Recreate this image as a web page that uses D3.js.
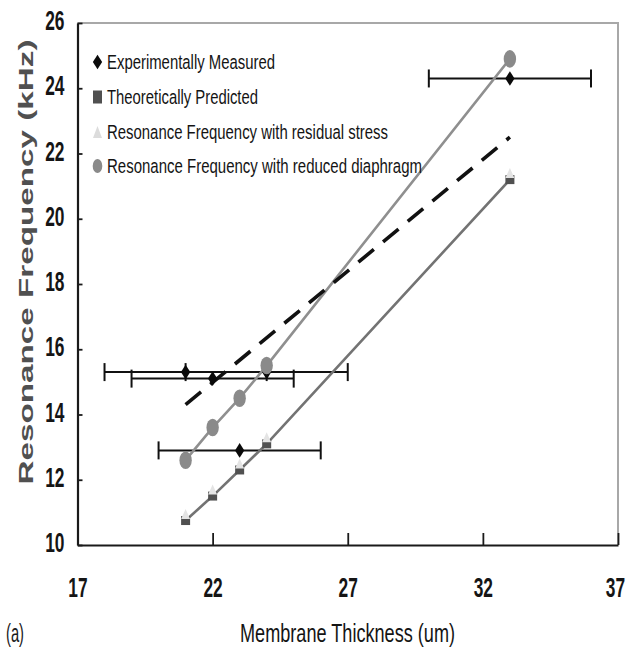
<!DOCTYPE html>
<html>
<head>
<meta charset="utf-8">
<script src="https://cdn.jsdelivr.net/npm/d3@7"></script>
<style>
  html, body { margin: 0; padding: 0; background: #fff; }
  svg { display: block; font-family: "Liberation Sans", Arial, sans-serif; }
</style>
</head>
<body>
<svg id="chart" width="629" height="650"></svg>
<script>
// Membrane thickness (um) at which each device was evaluated
const thickness = [21, 22, 23, 24, 33];

// Experimentally measured resonance frequency (kHz), with thickness uncertainty (um)
const measuredX = [21, 22, 24, 23, 33];
const measuredY = [15.3, 15.1, 15.3, 12.9, 24.3];
const measuredErr = [3, 3, 3, 3, 3];

// Model predictions (kHz)
const theoretical = [10.75, 11.5, 12.3, 13.1, 21.2];
const residualStress = [10.95, 11.7, 12.5, 13.3, 21.4];
const reducedDiaphragm = [12.6, 13.6, 14.5, 15.5, 24.9];

// Linear trend through the measured data (kHz)
const trendX = [21, 33];
const trendY = [14.3, 22.5];

const xTicks = [17, 22, 27, 32, 37];
const yTicks = [10, 12, 14, 16, 18, 20, 22, 24, 26];

const legendLabels = [
  "Experimentally Measured",
  "Theoretically Predicted",
  "Resonance Frequency with residual stress",
  "Resonance Frequency with reduced diaphragm"
];

const svg = d3.select("#chart");

const x = d3.scaleLinear().domain([17, 37]).range([77.5, 618]);
const y = d3.scaleLinear().domain([10, 26]).range([545, 23]);

// Frame: light top and right edges
svg.append("path")
  .attr("d", `M${x(17)},${y(26)}H${x(37)}V${y(10)}`)
  .attr("fill", "none")
  .attr("stroke", "#a8a8a8")
  .attr("stroke-width", 2);

// Axes with inward ticks
const xAxis = svg.append("g")
  .attr("transform", `translate(0,${y(10)})`)
  .call(d3.axisBottom(x).tickValues(xTicks).tickSizeInner(-12).tickSizeOuter(0).tickFormat(d3.format("d")));
const yAxis = svg.append("g")
  .attr("transform", `translate(${x(17)},0)`)
  .call(d3.axisLeft(y).tickValues(yTicks).tickSizeInner(-5).tickSizeOuter(0).tickFormat(d3.format("d")));

// Condensed numerals
const squeeze = 0.62;
[xAxis, yAxis].forEach(g => {
  g.select(".domain").attr("stroke", "#1a1a1a").attr("stroke-width", 2.2);
  g.selectAll(".tick line").attr("stroke", "#1a1a1a").attr("stroke-width", 1.8);
  g.selectAll(".tick text")
    .attr("fill", "#151515")
    .attr("font-size", 28)
    .attr("font-weight", "bold")
    .attr("font-family", "'Liberation Sans', Arial, sans-serif")
    .attr("transform", `scale(${squeeze},1)`);
});
xAxis.selectAll(".tick text").attr("y", 52).attr("dy", 0).attr("text-anchor", "middle");
xAxis.selectAll(".tick text").filter(d => d === 37).attr("x", -3 / squeeze);
yAxis.selectAll(".tick text").attr("x", -13 / squeeze).attr("dy", "0.24em").attr("text-anchor", "end");

// Horizontal error bars on the measured points
const eb = svg.append("g").attr("stroke", "#111").attr("stroke-width", 2).attr("fill", "none");
measuredX.forEach((xv, i) => {
  const yy = y(measuredY[i]);
  const x0 = x(xv - measuredErr[i]), x1 = x(xv + measuredErr[i]);
  eb.append("line").attr("x1", x0).attr("x2", x1).attr("y1", yy).attr("y2", yy);
  eb.append("line").attr("x1", x0).attr("x2", x0).attr("y1", yy - 9).attr("y2", yy + 9);
  eb.append("line").attr("x1", x1).attr("x2", x1).attr("y1", yy - 9).attr("y2", yy + 9);
});

const line = d3.line().x(d => x(d[0])).y(d => y(d[1]));

// Model curves
svg.append("path")
  .datum(d3.zip(thickness, reducedDiaphragm))
  .attr("d", line)
  .attr("fill", "none").attr("stroke", "#8f8f8f").attr("stroke-width", 2.6);
svg.append("path")
  .datum(d3.zip(thickness, theoretical))
  .attr("d", line)
  .attr("fill", "none").attr("stroke", "#737373").attr("stroke-width", 2.6);

// Dashed trend line
svg.append("path")
  .datum(d3.zip(trendX, trendY))
  .attr("d", line)
  .attr("fill", "none").attr("stroke", "#111").attr("stroke-width", 3.6)
  .attr("stroke-dasharray", "20,12");

// Marker shapes
const diamondPath = d3.symbol().type(d3.symbolDiamond).size(62)();
function drawDiamond(g, cx, cy) {
  g.append("path").attr("d", diamondPath)
    .attr("transform", `translate(${cx},${cy}) scale(1.1,1)`)
    .attr("fill", "#0a0a0a");
}
function drawSquare(g, cx, cy, w, h) {
  g.append("rect").attr("x", cx - w / 2).attr("y", cy - h / 2).attr("width", w).attr("height", h)
    .attr("fill", "#505050");
}
function drawTriangle(g, cx, cy, w, h, fill) {
  g.append("path")
    .attr("d", `M${cx},${cy - h / 2}L${cx + w / 2},${cy + h / 2}L${cx - w / 2},${cy + h / 2}Z`)
    .attr("fill", fill);
}
function drawCircle(g, cx, cy, rx, ry) {
  g.append("ellipse").attr("cx", cx).attr("cy", cy).attr("rx", rx).attr("ry", ry)
    .attr("fill", "#8a8a8a");
}

const marks = svg.append("g");
thickness.forEach((t, i) => drawSquare(marks, x(t), y(theoretical[i]), 9, 9));
thickness.forEach((t, i) => drawTriangle(marks, x(t), y(residualStress[i]), 9, 10, "#e4e4e4"));
measuredX.forEach((t, i) => drawDiamond(marks, x(t), y(measuredY[i])));
thickness.forEach((t, i) => drawCircle(marks, x(t), y(reducedDiaphragm[i]), 6.2, 8.8));

// Legend
const legend = svg.append("g");
const legendBase = [69, 104, 139, 173];
const legendLen = [168, 151, 281, 315];
legendLabels.forEach((label, i) => {
  const cy = legendBase[i] - 7;
  if (i === 0) drawDiamond(legend, 97.5, cy);
  if (i === 1) drawSquare(legend, 97.5, cy, 9, 13);
  if (i === 2) drawTriangle(legend, 97.5, cy, 9, 12, "#dcdcdc");
  if (i === 3) drawCircle(legend, 97.5, cy, 4.8, 7);
  legend.append("text")
    .attr("x", 107).attr("y", legendBase[i])
    .attr("font-size", 20.5)
    .attr("fill", "#141414")
    .attr("textLength", legendLen[i])
    .attr("lengthAdjust", "spacingAndGlyphs")
    .text(label);
});

// Axis titles
svg.append("text")
  .attr("transform", "translate(33,262) rotate(-90)")
  .attr("text-anchor", "middle")
  .attr("font-size", 20)
  .attr("font-weight", "bold")
  .attr("fill", "#505050")
  .attr("textLength", 445)
  .attr("lengthAdjust", "spacingAndGlyphs")
  .text("Resonance Frequency (kHz)");

svg.append("text")
  .attr("x", 240).attr("y", 642)
  .attr("font-size", 26)
  .attr("fill", "#141414")
  .attr("textLength", 215)
  .attr("lengthAdjust", "spacingAndGlyphs")
  .text("Membrane Thickness (um)");

svg.append("text")
  .attr("x", 6).attr("y", 642)
  .attr("font-size", 25)
  .attr("fill", "#1a1a1a")
  .attr("textLength", 18)
  .attr("lengthAdjust", "spacingAndGlyphs")
  .text("(a)");
</script>
</body>
</html>
